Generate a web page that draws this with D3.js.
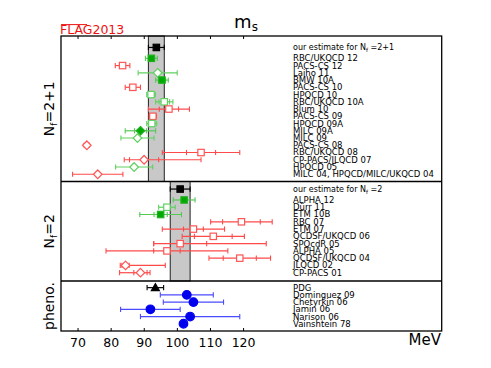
<!DOCTYPE html>
<html>
<head>
<meta charset="utf-8">
<script src="https://cdn.jsdelivr.net/npm/d3@7"></script>
<style>
body{margin:0;background:#fff}
text{font-family:"DejaVu Sans",sans-serif}
</style>
</head>
<body>
<script>
// Nf=2+1 results
const nf3Names=["RBC/UKQCD 12","PACS-CS 12","Laiho 11","BMW 10A","PACS-CS 10","HPQCD 10","RBC/UKQCD 10A","Blum 10","PACS-CS 09","HPQCD 09A","MILC 09A","MILC 09","PACS-CS 08","RBC/UKQCD 08","CP-PACS/JLQCD 07","HPQCD 05","MILC 04, HPQCD/MILC/UKQCD 04"]
const nf3Val=[92.3,83.6,94.2,95.5,86.7,92.2,96.2,97.6,92.75,92.4,89.0,88.1,72.8,107.3,90.1,87.1,76.1]
const nf3ErrLo=[1.8,2.2,5.9,1.9,2.3,1.3,2.6,6.2,1.1,1.5,4.6,5.0,0.8,11.7,6.0,5.6,7.6]
const nf3ErrHi=[1.8,2.2,5.9,1.9,2.3,1.3,2.6,6.2,1.1,1.5,4.6,5.0,0.8,11.7,17.2,5.6,7.6]
const nf3Inner=[0,0,0,1.1,0,0,1.6,2.9,0,0,1.8,0,0,4.4,4.4,0,0]
const nf3Shape=["sq","sq","di","sq","sq","sq","sq","sq","sq","sq","di","di","di","sq","di","di","di"]
const nf3Kind=["gf","ro","go","gf","ro","go","go","ro","ro","go","gf","go","ro","ro","ro","go","ro"]

// Nf=2 results
const nf2Names=["ALPHA 12","Dürr 11","ETM 10B","RBC 07","ETM 07","QCDSF/UKQCD 06","SPQcdR 05","ALPHA 05","QCDSF/UKQCD 04","JLQCD 02","CP-PACS 01"]
const nf2Val=[102.2,97.0,95.1,119.5,105,111,101,97,119,84.5,89]
const nf2ErrLo=[3.3,2.5,6.3,9.3,9.4,9.4,8,18.4,9.3,1.6,6.3]
const nf2ErrHi=[3.3,2.5,6.3,9.3,9.4,9.4,26,18.4,9.3,12,2.9]
const nf2Inner=[0,0,2,5.7,3,5.7,8,4,5,1.1,2]
const nf2Shape=["sq","sq","sq","sq","sq","sq","sq","sq","sq","di","di"]
const nf2Kind=["gf","go","gf","ro","ro","ro","ro","ro","ro","ro","ro"]

// phenomenology
const phNames=["PDG","Dominguez 09","Chetyrkin 06","Jamin 06","Narison 06","Vainshtein 78"]
const phVal=[93.5,103,105,92,104,102]
const phErr=[2.5,8,9.1,9,15,0]
const phShape=["tri","ci","ci","ci","ci","ci"]
const phKind=["bk","bl","bl","bl","bl","bl"]

// FLAG averages
const avgVal=[93.8,101]
const avgErr=[2.4,3]

const xTicks=[70,80,90,100,110,120]

const W=491,H=368
const svg=d3.select("body").append("svg").attr("width",W).attr("height",H)

const x=d3.scaleLinear().domain([65,180]).range([61,441.7])
const L=61,R=441.7,T=36,D1=181.5,D2=281,B=331

const panels=[
	{y:d3.scaleLinear().domain([-3.08,17]).range([T,D1]),names:nf3Names,val:nf3Val,lo:nf3ErrLo,hi:nf3ErrHi,inn:nf3Inner,shape:nf3Shape,kind:nf3Kind,avg:0,label:"2+1",top:T,bot:D1},
	{y:d3.scaleLinear().domain([-2.54,11.14]).range([D1,D2]),names:nf2Names,val:nf2Val,lo:nf2ErrLo,hi:nf2ErrHi,inn:nf2Inner,shape:nf2Shape,kind:nf2Kind,avg:1,label:"2",top:D1,bot:D2},
	{y:d3.scaleLinear().domain([-0.92,6.0]).range([D2,B]),names:phNames,val:phVal,lo:phErr,hi:phErr,inn:phErr.map(()=>0),shape:phShape,kind:phKind,avg:null,label:null,top:D2,bot:B}
]

const kinds={
	gf:{fill:"#00aa00",stroke:"#22b022",bar:"#55c855"},
	go:{fill:"#fff",stroke:"#60d060",bar:"#60d060"},
	ro:{fill:"#fff",stroke:"#ff5555",bar:"#ff4a4a"},
	bk:{fill:"#000",stroke:"#000",bar:"#000"},
	bl:{fill:"#0000ee",stroke:"#0000ee",bar:"#4a4aff"}
}

// grey bands for averages
for(const p of panels){
	if(p.avg==null) continue
	const a=avgVal[p.avg],e=avgErr[p.avg]
	svg.append("rect")
		.attr("x",x(a-e)).attr("y",p.top)
		.attr("width",x(a+e)-x(a-e)).attr("height",p.bot-p.top)
		.attr("fill","#c8c8c8").attr("stroke","#222").attr("stroke-width",1)
}

function errbar(g,y,v,lo,hi,inn,col){
	g.append("line").attr("x1",x(v-lo)).attr("x2",x(v+hi)).attr("y1",y).attr("y2",y)
		.attr("stroke",col).attr("stroke-width",1.2)
	const caps=[v-lo,v+hi]
	if(inn>0) caps.push(v-inn,v+inn)
	for(const c of caps){
		g.append("line").attr("x1",x(c)).attr("x2",x(c)).attr("y1",y-2.6).attr("y2",y+2.6)
			.attr("stroke",col).attr("stroke-width",1.1)
	}
}

function marker(g,cx,cy,shape,k){
	const s=kinds[k]
	let m
	if(shape=="sq") m=g.append("rect").attr("x",cx-3.2).attr("y",cy-3.2).attr("width",6.4).attr("height",6.4)
	else if(shape=="di") m=g.append("path").attr("d",`M${cx},${cy-4.3}L${cx+4.3},${cy}L${cx},${cy+4.3}L${cx-4.3},${cy}Z`)
	else if(shape=="tri") m=g.append("path").attr("d",`M${cx},${cy-4}L${cx+4},${cy+3}L${cx-4},${cy+3}Z`)
	else m=g.append("circle").attr("cx",cx).attr("cy",cy).attr("r",4.3)
	m.attr("fill",s.fill).attr("stroke",s.stroke).attr("stroke-width",1.2)
}

const gm=svg.append("g")
for(const p of panels){
	p.names.forEach((n,i)=>{
		const yy=p.y(i)
		if(p.lo[i]>0||p.hi[i]>0) errbar(gm,yy,p.val[i],p.lo[i],p.hi[i],p.inn[i],kinds[p.kind[i]].bar)
		marker(gm,x(p.val[i]),yy,p.shape[i],p.kind[i])
		gm.append("text").attr("x",293).attr("y",yy).attr("dy","0.35em")
			.attr("font-size",8.5).text(n)
	})
	if(p.avg!=null){
		const yy=p.y(-1.5)
		errbar(gm,yy,avgVal[p.avg],avgErr[p.avg],avgErr[p.avg],0,"#000")
		marker(gm,x(avgVal[p.avg]),yy,"sq","bk")
		const t=gm.append("text").attr("x",293).attr("y",yy).attr("dy","0.35em").attr("font-size",8)
		t.append("tspan").text("our estimate for N")
		t.append("tspan").attr("font-size",5.5).attr("dy",2).text("f")
		t.append("tspan").attr("dy",-2).text(" ="+p.label)
	}
}

// frame and dividers
svg.append("rect").attr("x",L).attr("y",T).attr("width",R-L).attr("height",B-T)
	.attr("fill","none").attr("stroke","#000").attr("stroke-width",1.3)
for(const d of [D1,D2]){
	svg.append("line").attr("x1",L).attr("x2",R).attr("y1",d).attr("y2",d)
		.attr("stroke","#000").attr("stroke-width",1.3)
}

// axes
const ax=svg.append("g").attr("transform",`translate(0,${B})`)
	.call(d3.axisBottom(x).tickValues(xTicks).tickSize(-3).tickPadding(7).tickFormat(d3.format("d")))
ax.select(".domain").remove()
ax.selectAll("text").attr("font-size",12.5).attr("font-family","DejaVu Sans").attr("fill","#000")
const axt=svg.append("g").attr("transform",`translate(0,${T})`)
	.call(d3.axisTop(x).tickValues(xTicks).tickSize(-3).tickFormat(""))
axt.select(".domain").remove()

svg.append("text").attr("x",441).attr("y",345).attr("text-anchor","end").attr("font-size",15).text("MeV")

// title
const tt=svg.append("text").attr("x",246).attr("y",28).attr("text-anchor","middle").attr("font-size",18)
tt.append("tspan").text("m")
tt.append("tspan").attr("font-size",12).attr("dy",3).text("s")

// FLAG logo
svg.append("text").attr("x",60).attr("y",34).attr("font-size",12.5).attr("fill","#ee1111").text("FLAG2013")
svg.append("line").attr("x1",61).attr("x2",87).attr("y1",24.6).attr("y2",24.6).attr("stroke","#ee1111").attr("stroke-width",1)

// panel labels
for(const p of panels){
	const cy=(p.top+p.bot)/2
	const t=svg.append("text").attr("transform",`translate(54,${cy}) rotate(-90)`)
		.attr("text-anchor","middle").attr("font-size",14)
	if(p.label){
		t.append("tspan").text("N")
		t.append("tspan").attr("font-size",9).attr("dy",3).text("f")
		t.append("tspan").attr("dy",-3).text("="+p.label)
	}else t.text("pheno.")
}
</script>
</body>
</html>
